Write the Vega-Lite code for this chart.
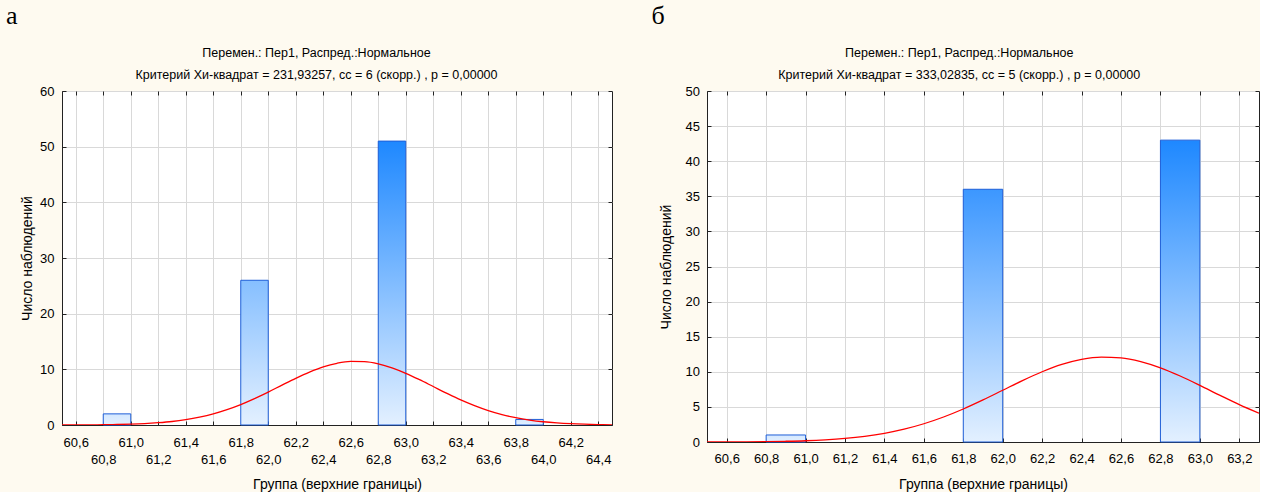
{
  "$schema": "https://vega.github.io/schema/vega-lite/v6.json",
  "background": "#fefaf0",
  "padding": {"left": 6, "top": 3, "right": 0, "bottom": 0},
  "datasets": {
    "barsA": [
      {"lo": 60.8, "hi": 61.0, "count": 2},
      {"lo": 61.8, "hi": 62.0, "count": 26},
      {"lo": 62.8, "hi": 63.0, "count": 51},
      {"lo": 63.8, "hi": 64.0, "count": 1}
    ],
    "barsB": [
      {"lo": 60.8, "hi": 61.0, "count": 1},
      {"lo": 61.8, "hi": 62.0, "count": 36},
      {"lo": 62.8, "hi": 63.0, "count": 43}
    ],
    "curveA": [
      {"x": 60.5, "y": 0.007}, {"x": 60.6, "y": 0.014}, {"x": 60.7, "y": 0.027}, {"x": 60.8, "y": 0.049},
      {"x": 60.9, "y": 0.087}, {"x": 61.0, "y": 0.15}, {"x": 61.1, "y": 0.25}, {"x": 61.2, "y": 0.41},
      {"x": 61.3, "y": 0.63}, {"x": 61.4, "y": 0.96}, {"x": 61.5, "y": 1.41}, {"x": 61.6, "y": 2.0},
      {"x": 61.7, "y": 2.76}, {"x": 61.8, "y": 3.67}, {"x": 61.9, "y": 4.74}, {"x": 62.0, "y": 5.92},
      {"x": 62.1, "y": 7.16}, {"x": 62.2, "y": 8.38}, {"x": 62.3, "y": 9.5}, {"x": 62.4, "y": 10.44},
      {"x": 62.5, "y": 11.09}, {"x": 62.6, "y": 11.42}, {"x": 62.7, "y": 11.38}, {"x": 62.8, "y": 10.99},
      {"x": 62.9, "y": 10.27}, {"x": 63.0, "y": 9.29}, {"x": 63.1, "y": 8.14}, {"x": 63.2, "y": 6.91},
      {"x": 63.3, "y": 5.68}, {"x": 63.4, "y": 4.51}, {"x": 63.5, "y": 3.48}, {"x": 63.6, "y": 2.59},
      {"x": 63.7, "y": 1.87}, {"x": 63.8, "y": 1.31}, {"x": 63.9, "y": 0.89}, {"x": 64.0, "y": 0.58},
      {"x": 64.1, "y": 0.37}, {"x": 64.2, "y": 0.23}, {"x": 64.3, "y": 0.14}, {"x": 64.4, "y": 0.08},
      {"x": 64.5, "y": 0.04}
    ],
    "curveB": [
      {"x": 60.5, "y": 0.008}, {"x": 60.6, "y": 0.015}, {"x": 60.7, "y": 0.03}, {"x": 60.8, "y": 0.057},
      {"x": 60.9, "y": 0.104}, {"x": 61.0, "y": 0.18}, {"x": 61.1, "y": 0.31}, {"x": 61.2, "y": 0.51},
      {"x": 61.3, "y": 0.81}, {"x": 61.4, "y": 1.24}, {"x": 61.5, "y": 1.83}, {"x": 61.6, "y": 2.6},
      {"x": 61.7, "y": 3.56}, {"x": 61.8, "y": 4.7}, {"x": 61.9, "y": 5.99}, {"x": 62.0, "y": 7.37},
      {"x": 62.1, "y": 8.75}, {"x": 62.2, "y": 10.01}, {"x": 62.3, "y": 11.06}, {"x": 62.4, "y": 11.78},
      {"x": 62.5, "y": 12.1}, {"x": 62.6, "y": 11.99}, {"x": 62.7, "y": 11.46}, {"x": 62.8, "y": 10.57},
      {"x": 62.9, "y": 9.4}, {"x": 63.0, "y": 8.07}, {"x": 63.1, "y": 6.68}, {"x": 63.2, "y": 5.33},
      {"x": 63.3, "y": 4.11}
    ]
  },
  "spacing": 38,
  "hconcat": [
    {
      "title": {"text": "а", "anchor": "start", "frame": "bounds", "font": "Liberation Serif", "fontSize": 26, "fontWeight": "normal", "color": "#000000", "dx": -14, "offset": 17},
      "vconcat": [
        {
          "width": 550,
          "height": 334,
          "title": {
            "text": ["Перемен.: Пер1, Распред.:Нормальное", "Критерий Хи-квадрат = 231,93257, сс = 6 (скорр.) , p = 0,00000"],
            "anchor": "middle", "frame": "bounds", "font": "Liberation Sans", "fontSize": 12.5, "fontWeight": "normal",
            "lineHeight": 22, "color": "#000000", "offset": 4
          },
          "layer": [
            {
              "data": {"name": "barsA"},
              "mark": {"type": "rect", "stroke": "#1f5fd8", "strokeWidth": 1},
              "encoding": {
                "x": {
                  "field": "lo", "type": "quantitative",
                  "scale": {"domain": [60.5, 64.5], "nice": false, "zero": false},
                  "axis": {
                    "orient": "bottom",
                    "values": [60.6, 60.8, 61.0, 61.2, 61.4, 61.6, 61.8, 62.0, 62.2, 62.4, 62.6, 62.8, 63.0, 63.2, 63.4, 63.6, 63.8, 64.0, 64.2, 64.4],
                    "title": "Группа (верхние границы)",
                    "labelExpr": "round((datum.value - 60.6) / 0.2) % 2 == 0 ? replace(format(datum.value, '.1f'), '.', ',') : ['', replace(format(datum.value, '.1f'), '.', ',')]",
                    "labelLineHeight": 17,
                    "labelOverlap": false,
                    "labelFlush": false,
                    "tickSize": -4,
                    "labelPadding": 15,
                    "titlePadding": 11,
                    "grid": true
                  }
                },
                "x2": {"field": "hi"},
                "y": {
                  "field": "count", "type": "quantitative",
                  "scale": {"domain": [0, 60], "nice": false},
                  "axis": {"orient": "left", "values": [0, 10, 20, 30, 40, 50, 60], "title": "Число наблюдений", "tickSize": -4, "labelPadding": 12, "titlePadding": 5, "grid": true}
                },
                "y2": {"datum": 0},
                "fill": {
                  "condition": [
                    {"test": "datum.count > 40", "value": {"gradient": "linear", "x1": 0, "y1": 0, "x2": 0, "y2": 1, "stops": [{"offset": 0, "color": "#1e88ff"}, {"offset": 1, "color": "#e3f0ff"}]}},
                    {"test": "datum.count > 10", "value": {"gradient": "linear", "x1": 0, "y1": 0, "x2": 0, "y2": 1, "stops": [{"offset": 0, "color": "#86bfff"}, {"offset": 1, "color": "#e3f0ff"}]}}
                  ],
                  "value": {"gradient": "linear", "x1": 0, "y1": 0, "x2": 0, "y2": 1, "stops": [{"offset": 0, "color": "#d4e8ff"}, {"offset": 1, "color": "#e3f0ff"}]}
                }
              }
            },
            {
              "data": {"name": "curveA"},
              "mark": {"type": "line", "color": "#ff0000", "strokeWidth": 1.3, "interpolate": "monotone", "clip": true},
              "encoding": {
                "x": {"field": "x", "type": "quantitative", "axis": {"orient": "top", "values": [60.6, 60.8, 61.0, 61.2, 61.4, 61.6, 61.8, 62.0, 62.2, 62.4, 62.6, 62.8, 63.0, 63.2, 63.4, 63.6, 63.8, 64.0, 64.2, 64.4], "labels": false, "grid": false, "domain": false, "title": null, "tickSize": -4}},
                "y": {"field": "y", "type": "quantitative", "axis": {"orient": "right", "values": [0, 10, 20, 30, 40, 50, 60], "labels": false, "grid": false, "domain": false, "title": null, "tickSize": -4}}
              }
            }
          ],
          "resolve": {"axis": {"x": "independent", "y": "independent"}}
        }
      ]
    },
    {
      "title": {"text": "б", "anchor": "start", "frame": "bounds", "font": "Liberation Serif", "fontSize": 26, "fontWeight": "normal", "color": "#000000", "dx": -7, "offset": 17},
      "vconcat": [
        {
          "width": 552,
          "height": 351,
          "title": {
            "text": ["Перемен.: Пер1, Распред.:Нормальное", "Критерий Хи-квадрат = 333,02835, сс = 5 (скорр.) , p = 0,00000"],
            "anchor": "middle", "frame": "bounds", "font": "Liberation Sans", "fontSize": 12.5, "fontWeight": "normal",
            "lineHeight": 22, "color": "#000000", "offset": 4
          },
          "layer": [
            {
              "data": {"name": "barsB"},
              "mark": {"type": "rect", "stroke": "#1f5fd8", "strokeWidth": 1},
              "encoding": {
                "x": {
                  "field": "lo", "type": "quantitative",
                  "scale": {"domain": [60.5, 63.3], "nice": false, "zero": false},
                  "axis": {
                    "orient": "bottom",
                    "values": [60.6, 60.8, 61.0, 61.2, 61.4, 61.6, 61.8, 62.0, 62.2, 62.4, 62.6, 62.8, 63.0, 63.2],
                    "title": "Группа (верхние границы)",
                    "labelExpr": "replace(format(datum.value, '.1f'), '.', ',')",
                    "labelOverlap": false,
                    "labelFlush": false,
                    "tickSize": -4,
                    "labelPadding": 14,
                    "titlePadding": 12,
                    "grid": true
                  }
                },
                "x2": {"field": "hi"},
                "y": {
                  "field": "count", "type": "quantitative",
                  "scale": {"domain": [0, 50], "nice": false},
                  "axis": {"orient": "left", "values": [0, 5, 10, 15, 20, 25, 30, 35, 40, 45, 50], "title": "Число наблюдений", "tickSize": -4, "labelPadding": 11.5, "titlePadding": 12, "grid": true}
                },
                "y2": {"datum": 0},
                "fill": {
                  "condition": [
                    {"test": "datum.count > 40", "value": {"gradient": "linear", "x1": 0, "y1": 0, "x2": 0, "y2": 1, "stops": [{"offset": 0, "color": "#1e88ff"}, {"offset": 1, "color": "#e3f0ff"}]}},
                    {"test": "datum.count > 10", "value": {"gradient": "linear", "x1": 0, "y1": 0, "x2": 0, "y2": 1, "stops": [{"offset": 0, "color": "#3c97ff"}, {"offset": 1, "color": "#e3f0ff"}]}}
                  ],
                  "value": {"gradient": "linear", "x1": 0, "y1": 0, "x2": 0, "y2": 1, "stops": [{"offset": 0, "color": "#d4e8ff"}, {"offset": 1, "color": "#e3f0ff"}]}
                }
              }
            },
            {
              "data": {"name": "curveB"},
              "mark": {"type": "line", "color": "#ff0000", "strokeWidth": 1.3, "interpolate": "monotone", "clip": true},
              "encoding": {
                "x": {"field": "x", "type": "quantitative", "axis": {"orient": "top", "values": [60.6, 60.8, 61.0, 61.2, 61.4, 61.6, 61.8, 62.0, 62.2, 62.4, 62.6, 62.8, 63.0, 63.2], "labels": false, "grid": false, "domain": false, "title": null, "tickSize": -4}},
                "y": {"field": "y", "type": "quantitative", "axis": {"orient": "right", "values": [0, 5, 10, 15, 20, 25, 30, 35, 40, 45, 50], "labels": false, "grid": false, "domain": false, "title": null, "tickSize": -4}}
              }
            }
          ],
          "resolve": {"axis": {"x": "independent", "y": "independent"}}
        }
      ]
    }
  ],
  "config": {
    "font": "Liberation Sans",
    "view": {"fill": "#ffffff", "stroke": "#222222", "strokeWidth": 1},
    "axis": {
      "labelFont": "Liberation Sans", "labelFontSize": 13, "labelColor": "#000000",
      "titleFont": "Liberation Sans", "titleFontSize": 14, "titleFontWeight": "normal", "titleColor": "#000000",
      "gridColor": "#d9d9d9", "gridWidth": 1, "domainColor": "#222222", "tickColor": "#222222", "tickWidth": 1
    }
  }
}
